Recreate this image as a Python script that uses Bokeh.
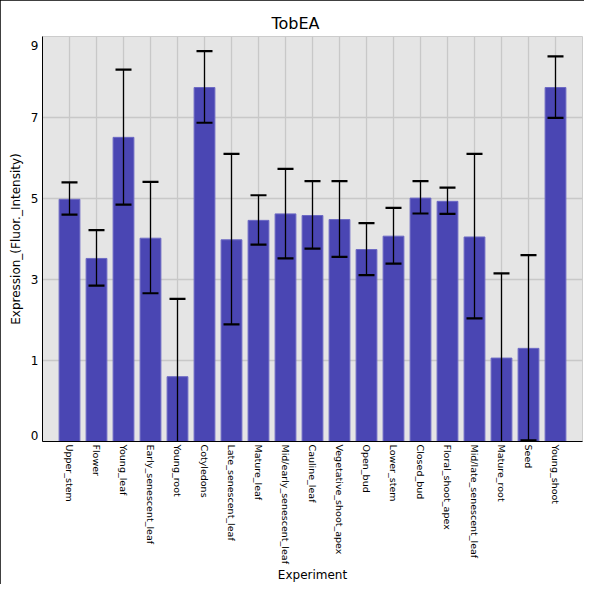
from bokeh.plotting import figure
from bokeh.models import FactorRange, Range1d, FixedTicker, ColumnDataSource
from bokeh.embed import file_html
from bokeh.resources import INLINE
import math

# ---- data ----
categories = ["Upper_stem", "Flower", "Young_leaf", "Early_senescent_leaf", "Young_root",
              "Cotyledons", "Late_senescent_leaf", "Mature_leaf", "Mid/early_senescent_leaf",
              "Cauline_leaf", "Vegetative_shoot_apex", "Open_bud", "Lower_stem", "Closed_bud",
              "Floral_shoot_apex", "Mid/late_senescent_leaf", "Mature_root", "Seed", "Young_shoot"]
values = [4.98, 3.52, 6.51, 4.02, 0.60, 7.74, 3.98, 4.46, 4.62, 4.58,
          4.48, 3.74, 4.07, 5.01, 4.93, 4.05, 1.06, 1.30, 7.74]
err_upper = [5.40, 4.22, 8.18, 5.41, 2.52, 8.64, 6.10, 5.08, 5.73, 5.43,
             5.43, 4.39, 4.77, 5.43, 5.27, 6.10, 3.15, 3.60, 8.51]
err_lower = [4.60, 2.85, 4.85, 2.66, -1.32, 6.87, 1.89, 3.86, 3.52, 3.76,
             3.56, 3.11, 3.39, 4.63, 4.62, 2.04, -1.03, -0.97, 6.99]
y_start, y_end = -1.0, 9.0
y_tick_values = [-0.85, 1, 3, 5, 7, 8.79]
y_tick_labels = ["0", "1", "3", "5", "7", "9"]
y_grid_values = [1, 3, 5, 7]

src = ColumnDataSource(dict(cat=categories, val=values, up=err_upper, lo=err_lower,
                            base=[y_start] * len(categories)))

FONT = "DejaVu Sans"

p = figure(width=584, height=584, output_backend="svg", toolbar_location=None,
           x_range=FactorRange(factors=categories, range_padding=0.5,
                               range_padding_units="absolute"),
           y_range=Range1d(y_start, y_end),
           title="TobEA",
           min_border_left=42, min_border_right=2, min_border_top=36, min_border_bottom=132)

p.styles = {"outline": "1px solid black", "outline-offset": "-1px"}
p.background_fill_color = "#e5e5e5"
p.border_fill_color = "white"
p.outline_line_color = "#cccccc"

p.title.text_font = FONT
p.title.text_font_size = "16px"
p.title.text_font_style = "normal"
p.title.text_color = "black"
p.title.align = "left"
p.title.offset = 229
p.title.standoff = 8

p.vbar(x="cat", top="val", bottom="base", width=0.77, source=src,
       fill_color="#4a46b3", line_color="#6d6ac4", line_width=1)
p.segment(x0="cat", y0="lo", x1="cat", y1="up", source=src,
          line_color="black", line_width=1.3)
p.scatter(x="cat", y="up", marker="dash", size=16, line_width=2.2,
          line_color="black", source=src)
p.scatter(x="cat", y="lo", marker="dash", size=16, line_width=2.2,
          line_color="black", source=src)

# grids
p.xgrid.grid_line_color = "#c8c8c8"
p.xgrid.grid_line_width = 1.3
p.ygrid.grid_line_color = "#c8c8c8"
p.ygrid.grid_line_width = 1.3
p.ygrid.ticker = FixedTicker(ticks=y_grid_values)

# y axis
p.yaxis.ticker = FixedTicker(ticks=y_tick_values)
p.yaxis.major_label_overrides = {v: l for v, l in zip(y_tick_values, y_tick_labels)}
p.yaxis.axis_label = "Expression_(Fluor._Intensity)"
p.yaxis.major_tick_line_color = None
p.yaxis.minor_tick_line_color = None
p.yaxis.major_tick_out = 0
p.yaxis.major_tick_in = 0
p.yaxis.minor_tick_out = 0
p.yaxis.major_label_text_font = FONT
p.yaxis.major_label_text_font_size = "12px"
p.yaxis.major_label_text_color = "black"
p.yaxis.major_label_standoff = 4
p.yaxis.axis_label_text_font = FONT
p.yaxis.axis_label_text_font_size = "12px"
p.yaxis.axis_label_text_font_style = "normal"
p.yaxis.axis_label_text_color = "black"
p.yaxis.axis_label_standoff = 5
p.yaxis.axis_line_color = "black"

# x axis
p.xaxis.axis_label = "Experiment"
p.xaxis.major_tick_line_color = None
p.xaxis.minor_tick_line_color = None
p.xaxis.major_tick_out = 0
p.xaxis.major_tick_in = 0
p.xaxis.minor_tick_out = 0
p.xaxis.major_label_orientation = -math.pi / 2
p.xaxis.major_label_text_font = FONT
p.xaxis.major_label_text_font_size = "9.5px"
p.xaxis.major_label_text_color = "black"
p.xaxis.major_label_standoff = 3
p.xaxis.axis_label_text_font = FONT
p.xaxis.axis_label_text_font_size = "12px"
p.xaxis.axis_label_text_font_style = "normal"
p.xaxis.axis_label_text_color = "black"
p.xaxis.axis_label_standoff = 1
p.xaxis.axis_line_color = "black"

open("out.html", "w").write(file_html(p, INLINE))
